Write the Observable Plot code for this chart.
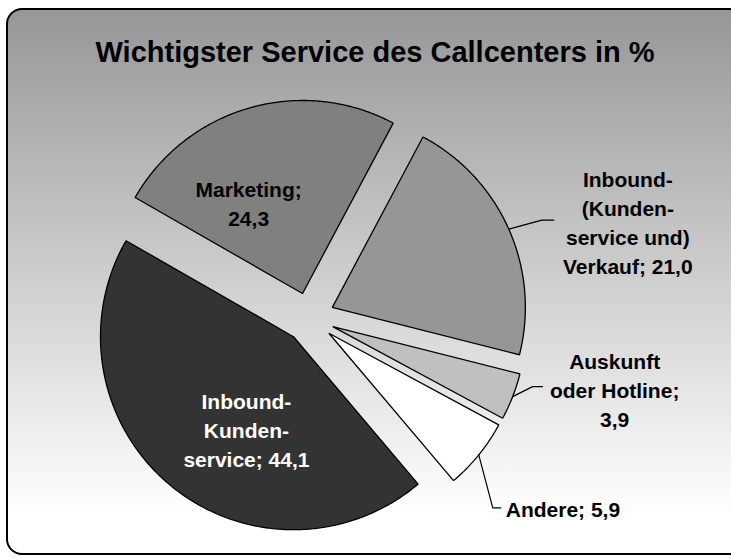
<!DOCTYPE html>
<html>
<head>
<meta charset="utf-8">
<script src="https://cdn.jsdelivr.net/npm/d3@7"></script>
<script src="https://cdn.jsdelivr.net/npm/@observablehq/plot@0.6"></script>
<style>
  html, body { margin: 0; padding: 0; width: 731px; height: 558px; overflow: hidden; background: #fff;
    font-family: "Liberation Sans", Arial, sans-serif; }
  #frame { position: absolute; left: 6px; top: 8px; width: 740px; height: 547px; box-sizing: border-box;
    border: 2px solid #000; border-radius: 16px;
    background: linear-gradient(180deg, #979797 0%, #ffffff 93%); }
  #title { position: absolute; left: 0; top: 38px; width: 750px; text-align: center;
    font: bold 29px/29px "Liberation Sans", Arial, sans-serif; color: #000; white-space: nowrap; }
  #chart { position: absolute; left: 0; top: 0; }
</style>
</head>
<body>
<div id="frame"></div>
<div id="title">Wichtigster Service des Callcenters in %</div>
<div id="chart"></div>
<script>
// ---- data (clockwise order, as in the reference) ----
const categories = ["Inbound-(Kundenservice und) Verkauf", "Auskunft oder Hotline", "Andere", "Inbound-Kundenservice", "Marketing"];
const values = [21.0, 3.9, 5.9, 44.1, 24.3];
const labelLines = [
  ["Inbound-", "(Kunden-", "service und)", "Verkauf; 21,0"],
  ["Auskunft", "oder Hotline;", "3,9"],
  ["Andere; 5,9"],
  ["Inbound-", "Kunden-", "service; 44,1"],
  ["Marketing;", "24,3"]
];

// ---- styles / layout (kept apart from the data) ----
const sliceFill = ["#969696", "#c0c0c0", "#ffffff", "#333333", "#808080"];
const labelColor = ["#000", "#000", "#000", "#fff", "#000"];
const startAngle = 28;          // degrees, clockwise from 12 o'clock
const cx = 309, cy = 317;       // pie centre
const R = 193;                  // radius
const EXPLODE = 25;             // explosion distance
// label placement: inside labels in polar terms relative to the slice apex,
// outside labels via leader elbow / text offsets relative to the arc mid point
const labelLayout = [
  {outside: true, elbow: [33, -9], end: [45, -9], text: [119, -8], anchor: "middle"},
  {outside: true, elbow: [20, -10], end: [30, -10], text: [102, -8], anchor: "middle"},
  {outside: true, elbow: [14, 53], end: [22, 53], text: [27, 53], anchor: "start"},
  {outside: false, dAngle: -12.6, dist: 103},
  {outside: false, dAngle: -14.5, dist: 106}
];

const rad = d => d * Math.PI / 180;
const polar = (ox, oy, r, deg) => [ox + r * Math.sin(rad(deg)), oy - r * Math.cos(rad(deg))];

const total = d3.sum(values);
let acc = 0;
const slices = values.map((v, i) => {
  const a0 = startAngle + acc / total * 360;
  acc += v;
  const a1 = startAngle + acc / total * 360;
  const mid = (a0 + a1) / 2;
  const [ax, ay] = polar(cx, cy, EXPLODE, mid);
  return {i, a0, a1, mid, ax, ay};
});

// polygon outlines of the slices
const outline = [];
for (const s of slices) {
  outline.push({slice: s.i, x: s.ax, y: s.ay});
  const n = Math.max(2, Math.ceil((s.a1 - s.a0) / 0.5));
  for (let k = 0; k <= n; k++) {
    const [x, y] = polar(s.ax, s.ay, R, s.a0 + (s.a1 - s.a0) * k / n);
    outline.push({slice: s.i, x, y});
  }
}

// labels and leaders
const labels = [], leaders = [];
slices.forEach((s, i) => {
  const L = labelLayout[i];
  if (L.outside) {
    const [px, py] = polar(s.ax, s.ay, R, s.mid);
    leaders.push({k: i, x: px, y: py});
    leaders.push({k: i, x: px + L.elbow[0], y: py + L.elbow[1]});
    leaders.push({k: i, x: px + L.end[0], y: py + L.end[1]});
    labels.push({i, x: px + L.text[0], y: py + L.text[1], text: labelLines[i].join("\n"), anchor: L.anchor});
  } else {
    const [px, py] = polar(s.ax, s.ay, L.dist, s.mid + L.dAngle);
    labels.push({i, x: px, y: py, text: labelLines[i].join("\n"), anchor: "middle"});
  }
});

const textOpts = {x: "x", y: "y", text: "text", fontSize: 21, fontWeight: "bold", lineHeight: 29 / 21};

const chart = Plot.plot({
  width: 731,
  height: 558,
  margin: 0,
  x: {domain: [0, 731], range: [0, 731], axis: null},
  y: {domain: [0, 558], range: [0, 558], axis: null},
  color: {type: "identity"},
  style: {background: "transparent", fontFamily: "'Liberation Sans', Arial, sans-serif", overflow: "visible"},
  marks: [
    Plot.line(outline, {x: "x", y: "y", z: "slice", fill: d => sliceFill[d.slice], stroke: "#000",
      strokeWidth: 1.3, curve: "linear-closed", strokeLinejoin: "miter"}),
    Plot.line(leaders, {x: "x", y: "y", z: "k", stroke: "#000", strokeWidth: 1.2}),
    Plot.text(labels.filter(d => d.anchor === "middle"), {...textOpts, textAnchor: "middle", fill: d => labelColor[d.i]}),
    Plot.text(labels.filter(d => d.anchor === "start"), {...textOpts, textAnchor: "start", fill: d => labelColor[d.i]})
  ]
});
document.getElementById("chart").appendChild(chart);
</script>
</body>
</html>
